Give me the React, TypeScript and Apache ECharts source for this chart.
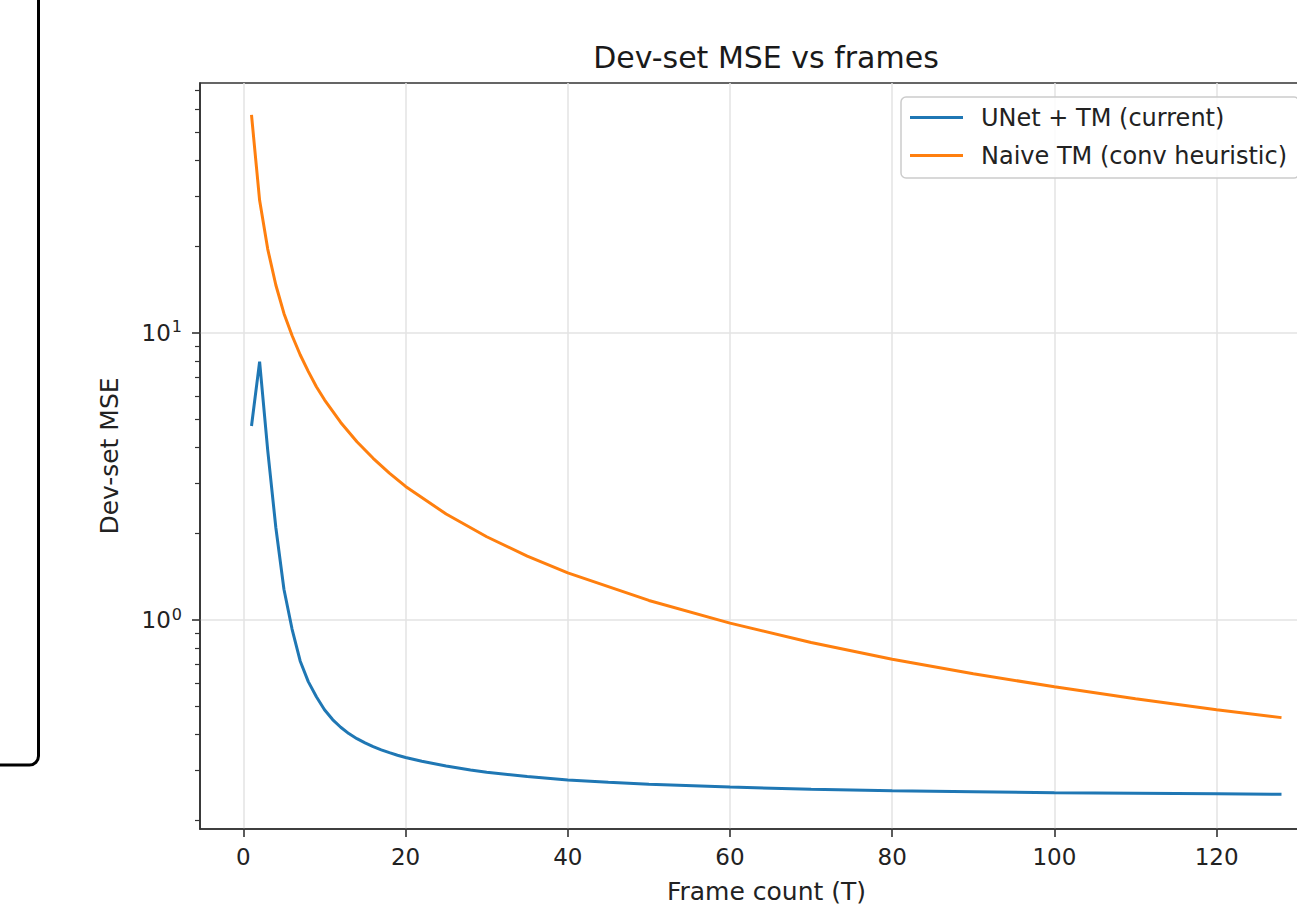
import React, { useEffect, useRef } from "react";
import * as echarts from "echarts";

// ---- data ----
const unetFrames = [1, 2, 3, 4, 5, 6, 7, 8, 9, 10, 11, 12, 13, 14, 15, 16, 17, 18, 19, 20, 22, 25, 28, 30, 35, 40, 45, 50, 60, 70, 80, 90, 100, 110, 120, 128];
const unetMse = [4.74, 7.95, 3.9, 2.1, 1.28, 0.93, 0.72, 0.61, 0.54, 0.487, 0.45, 0.423, 0.402, 0.386, 0.373, 0.362, 0.353, 0.345, 0.338, 0.332, 0.322, 0.31, 0.3, 0.295, 0.285, 0.277, 0.272, 0.268, 0.262, 0.257, 0.254, 0.252, 0.25, 0.249, 0.248, 0.247];

const naiveFrames = [1, 2, 3, 4, 5, 6, 7, 8, 9, 10, 12, 14, 16, 18, 20, 25, 30, 35, 40, 50, 60, 70, 80, 90, 100, 110, 120, 128];
const naiveMse = [57.5, 29, 19.6, 14.7, 11.7, 9.8, 8.4, 7.35, 6.5, 5.85, 4.88, 4.18, 3.66, 3.25, 2.92, 2.34, 1.95, 1.67, 1.46, 1.17, 0.975, 0.835, 0.73, 0.65, 0.585, 0.532, 0.487, 0.457];

const seriesNames = ["UNet + TM (current)", "Naive TM (conv heuristic)"];
const xTicks = [0, 20, 40, 60, 80, 100, 120];
const yMajorTicks = [1, 10];
const yMinorTicks = [0.2, 0.3, 0.4, 0.5, 0.6, 0.7, 0.8, 0.9, 2, 3, 4, 5, 6, 7, 8, 9, 20, 30, 40, 50, 60, 70];

const FONT = '"DejaVu Sans", "Noto Sans", sans-serif';

export default function App() {
  const ref = useRef<HTMLDivElement>(null);
  useEffect(() => {
    if (!ref.current) return;
    const chart = echarts.init(ref.current, null, { renderer: "svg" });
    const xMin = -5.35;
    const xMax = 134.35;
    const yMin = 0.187;
    const yMax = 74.3;
    chart.setOption({
      animation: false,
      backgroundColor: "#fff",
      textStyle: { fontFamily: FONT },
      graphic: [
        {
          type: "rect",
          shape: { x: -20, y: -20, width: 58.5, height: 785, r: 9 },
          style: { fill: "none", stroke: "#000", lineWidth: 3 },
          z: 100,
        },
        {
          type: "text",
          x: 766,
          y: 57,
          style: {
            text: "Dev-set MSE vs frames",
            fontSize: 30,
            fontFamily: FONT,
            fill: "#1a1a1a",
            align: "center",
            verticalAlign: "middle",
          },
        },
      ],
      grid: {
        left: 200,
        top: 83,
        width: 1133,
        height: 746,
        show: true,
        containLabel: false,
        outerBoundsMode: "none",
        borderColor: "#333",
        borderWidth: 1.6,
        backgroundColor: "transparent",
      },
      legend: {
        orient: "vertical",
        left: 901,
        top: 97,
        data: seriesNames,
        icon: "rect",
        itemWidth: 53,
        itemHeight: 3,
        itemGap: 9,
        backgroundColor: "rgba(255,255,255,0.85)",
        borderColor: "#cccccc",
        borderWidth: 1.5,
        borderRadius: 5,
        padding: [6, 12, 8, 9],
        textStyle: { fontSize: 24, color: "#222", fontFamily: FONT, padding: [0, 0, 0, 13], lineHeight: 29 },
      },
      xAxis: {
        type: "value",
        min: xMin,
        max: xMax,
        name: "Frame count (T)",
        nameLocation: "middle",
        nameGap: 50,
        nameTextStyle: { fontSize: 25, lineHeight: 25, color: "#222", fontFamily: FONT },
        axisLine: { show: true, onZero: false, lineStyle: { color: "#333", width: 1.6 } },
        axisTick: { show: true, length: 8, customValues: xTicks, lineStyle: { color: "#333", width: 1.6 } },
        axisLabel: { customValues: xTicks, fontSize: 23, color: "#222", margin: 16, fontFamily: FONT },
        splitLine: { show: true, lineStyle: { color: "#e3e3e3", width: 1.5 } },
      },
      yAxis: [
        {
          type: "log",
          logBase: 10,
          min: yMin,
          max: yMax,
          name: "Dev-set MSE",
          nameLocation: "middle",
          nameGap: 78,
          nameTextStyle: { fontSize: 25, color: "#222", fontFamily: FONT },
          axisLine: { show: true, onZero: false, lineStyle: { color: "#333", width: 1.6 } },
          axisTick: { show: true, length: 8, customValues: yMajorTicks, lineStyle: { color: "#333", width: 1.6 } },
          axisLabel: {
            customValues: yMajorTicks,
            margin: 18,
            formatter: (v: number) => "{b|10}{s|" + Math.round(Math.log10(v)) + "}",
            rich: {
              b: { fontSize: 23, color: "#222", fontFamily: FONT },
              s: { fontSize: 16, color: "#222", fontFamily: FONT, padding: [0, 0, 12, 1] },
            },
          },
          splitLine: { show: true, lineStyle: { color: "#e3e3e3", width: 1.5 } },
        },
        {
          type: "log",
          logBase: 10,
          min: yMin,
          max: yMax,
          position: "left",
          axisLine: { show: false, onZero: false },
          axisTick: { show: true, length: 5, customValues: yMinorTicks, lineStyle: { color: "#333", width: 1.2 } },
          axisLabel: { show: false, customValues: yMinorTicks },
          splitLine: { show: false },
        },
      ],
      series: [
        {
          name: seriesNames[0],
          type: "line",
          yAxisIndex: 0,
          data: unetFrames.map((t, i) => [t, unetMse[i]]),
          showSymbol: false,
          symbol: "none",
          color: "#1f77b4",
          lineStyle: { width: 3, color: "#1f77b4" },
        },
        {
          name: seriesNames[1],
          type: "line",
          yAxisIndex: 0,
          data: naiveFrames.map((t, i) => [t, naiveMse[i]]),
          showSymbol: false,
          symbol: "none",
          color: "#ff7f0e",
          lineStyle: { width: 3, color: "#ff7f0e" },
        },
      ],
    });
    return () => chart.dispose();
  }, []);
  return (
    <div style={{ position: "fixed", left: 0, top: 0, width: 1297, height: 907, overflow: "hidden", background: "#fff" }}>
      <div ref={ref} style={{ width: 1345, height: 907 }} />
    </div>
  );
}
